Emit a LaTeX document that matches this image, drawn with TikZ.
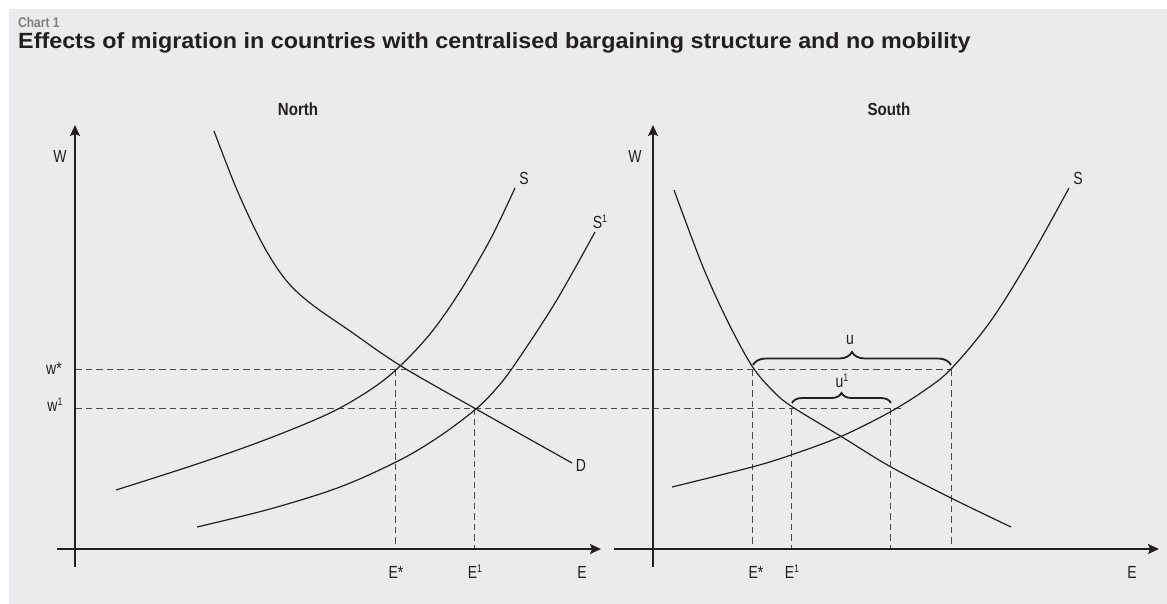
\documentclass[tikz,border=0pt]{standalone}
\usepackage{fontspec}
\setmainfont{Liberation Sans}
\newfontfamily\labfont{Liberation Sans}[FakeStretch=0.8]
\newfontfamily\headfont{Liberation Sans Bold}[FakeStretch=0.86]
\newfontfamily\titlefont{Liberation Sans Bold}[FakeStretch=1.06]
\usetikzlibrary{arrows.meta,decorations.pathreplacing}
\definecolor{bg}{HTML}{EBEBED}
\definecolor{ink}{HTML}{231F20}
\definecolor{dashc}{HTML}{4A4A4A}
\definecolor{chartgray}{HTML}{7F7F7F}
\newcommand\supone{\raisebox{0.33em}{\fontsize{11}{11}\selectfont 1}}
\begin{document}
\begin{tikzpicture}[x=1pt,y=-1pt,
  axisline/.style={draw=ink,line width=1.4pt,-{Stealth[length=11pt,width=10pt,inset=2pt]}},
  axistail/.style={draw=ink,line width=1.4pt},
  curve/.style={draw=ink,line width=1.2pt,smooth,tension=0.55},
  dashline/.style={draw=dashc,line width=1pt,dash pattern=on 6.5pt off 4pt},
  lab/.style={text=ink,font=\labfont\fontsize{17.5}{17.5}\selectfont,inner sep=0pt},
  panel/.style={text=ink,font=\headfont\fontsize{17.5}{17.5}\selectfont,inner sep=0pt},
  bracestyle/.style={draw=ink,line width=1.8pt,decorate,decoration={brace,amplitude=#1}}
]
\useasboundingbox (0,0) rectangle (1167,604);
\fill[bg] (9,9) rectangle (1167,604);

% headings
\node[anchor=base west,inner sep=0pt,text=chartgray,font=\headfont\fontsize{14}{14}\selectfont] (chart) at (18,28) {Chart 1};
\node[anchor=base west,inner sep=0pt,text=ink,font=\titlefont\fontsize{22}{22}\selectfont] (title) at (18,49) {Effects of migration in countries with centralised bargaining structure and no mobility};
\node[panel] (north) at (298,109) {North};
\node[panel] (south) at (889,109) {South};

% ---------- coordinates ----------
\coordinate (nYb) at (75,567);  \coordinate (nYt) at (75,125);
\coordinate (nXl) at (57,549);  \coordinate (nXr) at (601,549);
\coordinate (sYb) at (653,567); \coordinate (sYt) at (653,125);
\coordinate (sXl) at (614,549); \coordinate (sXr) at (1159,549);

\coordinate (wsL) at (75,369);  \coordinate (wsR) at (951,369);
\coordinate (w1L) at (75,408);  \coordinate (w1R) at (902,408);

\coordinate (nEs) at (395,369); \coordinate (nEsB) at (395,549);
\coordinate (nE1) at (474,408); \coordinate (nE1B) at (474,549);
\coordinate (sEs) at (752,369); \coordinate (sEsB) at (752,549);
\coordinate (sE1) at (791,408); \coordinate (sE1B) at (791,549);
\coordinate (sE2) at (890,408); \coordinate (sE2B) at (890,549);
\coordinate (sE3) at (951,369); \coordinate (sE3B) at (951,549);

% ---------- dashed guides ----------
\draw[dashline] (wsL) -- (wsR);
\draw[dashline] (w1L) -- (w1R);
\draw[dashline] (nEs) -- (nEsB);
\draw[dashline] (nE1) -- (nE1B);
\draw[dashline] (sEs) -- (sEsB);
\draw[dashline] (sE1) -- (sE1B);
\draw[dashline] (sE2) -- (sE2B);
\draw[dashline] (sE3) -- (sE3B);

% ---------- axes ----------
\draw[axistail] (nYb) -- (75,549);
\draw[axisline] (75,549) -- (nYt);
\draw[axisline] (nXl) -- (nXr);
\draw[axistail] (sYb) -- (653,549);
\draw[axisline] (653,549) -- (sYt);
\draw[axisline] (sXl) -- (sXr);

% ---------- North curves ----------
\draw[curve] plot coordinates {(214,131) (237,190) (262,243) (285,279) (310,303) (350,331) (401,366) (476,409) (572,463)};
\draw[curve] plot coordinates {(116,490) (200,463) (270,438) (330,413) (370,390) (398,368) (430,334) (459,293) (490,240) (515,188)};
\draw[curve] plot coordinates {(197,527) (270,509) (340,487) (400,460) (440,436) (476,409) (495,390) (513,367) (555,303) (595,232)};

% ---------- South curves ----------
\draw[curve] plot coordinates {(674,190) (703,267) (728,322) (752,366) (772,390) (791,406) (842,437) (891,467) (951,498) (1011,527)};
\draw[curve] plot coordinates {(672,487) (752,467) (791,455) (842,436) (890,412) (925,390) (951,369) (990,322) (1029,260) (1069,188)};

% ---------- braces ----------
\draw[bracestyle=13pt] (753,365) -- (951,365);
\draw[bracestyle=10pt] (792,403) -- (891,403);

% ---------- labels ----------
\node[lab] (nW) at (60,156) {W};
\node[lab] (sW) at (635,156) {W};
\node[lab] (wstar) at (54,368) {w*};
\node[lab] (wone) at (55,405) {w\supone};
\node[lab] (nS) at (524,178) {S};
\node[lab] (nS1) at (600,222) {S\supone};
\node[lab] (nD) at (581,465) {D};
\node[lab] (nEsl) at (396,572) {E*};
\node[lab] (nE1l) at (475,572) {E\supone};
\node[lab] (nEl) at (582,572) {E};
\node[lab] (sS) at (1078,178) {S};
\node[lab] (sEsl) at (756,572) {E*};
\node[lab] (sE1l) at (792,572) {E\supone};
\node[lab] (sEl) at (1132,572) {E};
\node[lab] (u) at (850,340) {u};
\node[lab] (u1) at (842,381) {u\supone};
\end{tikzpicture}
\end{document}
